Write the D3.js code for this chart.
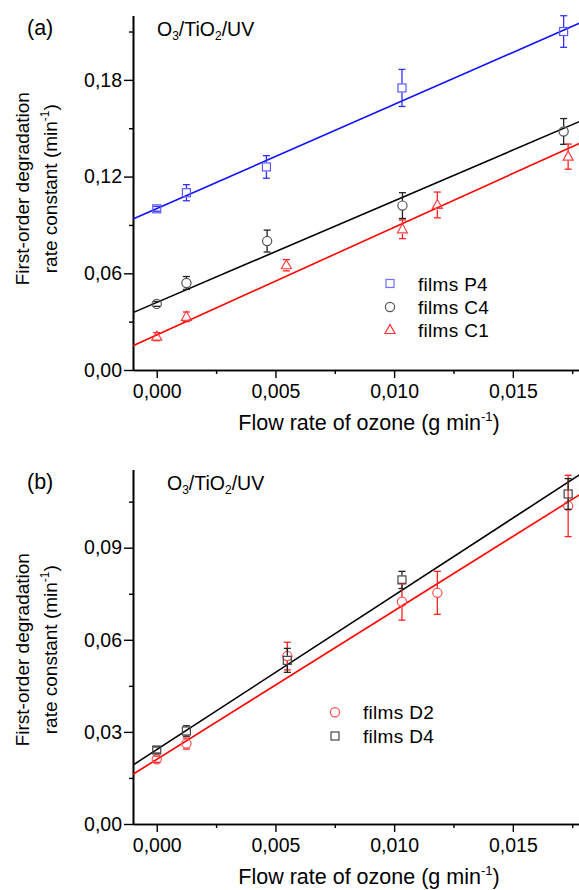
<!DOCTYPE html>
<html><head><meta charset="utf-8">
<script src="https://cdn.jsdelivr.net/npm/d3@7"></script>
<style>
html,body{margin:0;padding:0;background:#fff;}
text{font-family:"Liberation Sans",Arial,sans-serif;fill:#000;}
</style></head>
<body><div id="chart"></div>
<script>
// ---------- DATA ----------
// Panel (a)
const xP4 = [0, 0.00125, 0.00462, 0.01033, 0.01714];
const yP4 = [0.100, 0.110, 0.126, 0.175, 0.210];
const eP4 = [0.0015, 0.005, 0.007, 0.0115, 0.0098];
const xC4 = [0, 0.00125, 0.00465, 0.01035, 0.01714];
const yC4 = [0.041, 0.054, 0.080, 0.102, 0.148];
const eC4 = [0.0015, 0.004, 0.0068, 0.008, 0.008];
const xC1 = [0, 0.00125, 0.00546, 0.01035, 0.01182, 0.01733];
const yC1 = [0.0207, 0.033, 0.065, 0.0873, 0.1024, 0.1324];
const eC1 = [0.0025, 0.003, 0.0035, 0.0058, 0.008, 0.0078];
// fitted lines: [x, y] end points
const fitP4 = [[-0.001, 0.0937], [0.0178, 0.2151]];
const fitC4 = [[-0.001, 0.0356], [0.0178, 0.1541]];
const fitC1 = [[-0.001, 0.0151], [0.0178, 0.1406]];
// Panel (b)
const xD2 = [0, 0.00125, 0.00550, 0.01033, 0.01182, 0.01733];
const yD2 = [0.0211, 0.0262, 0.0547, 0.0724, 0.0753, 0.1036];
const eD2 = [0.001, 0.0018, 0.0045, 0.006, 0.007, 0.010];
const xD4 = [0, 0.00125, 0.00550, 0.01033, 0.01733];
const yD4 = [0.0241, 0.0303, 0.0533, 0.0795, 0.1075];
const eD4 = [0.001, 0.0017, 0.0039, 0.0028, 0.005];
const fitD4 = [[-0.001, 0.0192], [0.0178, 0.1137]];
const fitD2 = [[-0.001, 0.0162], [0.0178, 0.1072]];
// ticks
const xTicks = [0, 0.005, 0.010, 0.015];
const xMinor = [0.0025, 0.0075, 0.0125, 0.0175];
const yTicksA = [0, 0.06, 0.12, 0.18];
const yMinorA = [0.03, 0.09, 0.15, 0.21];
const yTicksB = [0, 0.03, 0.06, 0.09];
const yMinorB = [0.015, 0.045, 0.075, 0.105];
const legendA = ["films P4", "films C4", "films C1"];
const legendB = ["films D2", "films D4"];

// ---------- DRAWING ----------
const W = 579, H = 890;
const svg = d3.select("#chart").append("svg").attr("width", W).attr("height", H);
const comma = f => (v => f(v).replace(".", ","));
const fmtX = comma(d3.format(".3f"));
const fmtY = comma(d3.format(".2f"));

function panel(cfg) {
  const g = svg.append("g");
  const x = d3.scaleLinear().domain([-0.001, 0.0178]).range([133, 579.3]);
  const y = d3.scaleLinear().domain(cfg.yDomain).range([cfg.bottom, cfg.top]);

  // axes
  g.append("g").attr("transform", `translate(0,${cfg.bottom})`)
    .call(d3.axisBottom(x).tickValues(xTicks).tickFormat(fmtX).tickSize(8).tickSizeOuter(0).tickPadding(6));
  g.append("g").attr("transform", `translate(0,${cfg.bottom})`)
    .call(d3.axisBottom(x).tickValues(xMinor).tickFormat("").tickSize(4).tickSizeOuter(0));
  g.append("g").attr("transform", `translate(133,0)`)
    .call(d3.axisLeft(y).tickValues(cfg.yTicks).tickFormat(fmtY).tickSize(9).tickSizeOuter(0).tickPadding(2));
  g.append("g").attr("transform", `translate(133,0)`)
    .call(d3.axisLeft(y).tickValues(cfg.yMinor).tickFormat("").tickSize(4).tickSizeOuter(0));
  g.selectAll(".domain").attr("stroke", "#000").attr("stroke-width", 1.6);
  g.selectAll(".tick line").attr("stroke", "#000").attr("stroke-width", 1.4);
  g.selectAll(".tick text").attr("font-size", 19.5).attr("font-family", "Liberation Sans, Arial, sans-serif");

  // fit lines
  const line = d3.line().x(d => x(d[0])).y(d => y(d[1]));
  cfg.series.forEach(s => {
    g.append("path").attr("d", line(s.fit)).attr("fill", "none")
      .attr("stroke", s.lineColor).attr("stroke-width", 1.6);
  });

  // error bars + markers
  cfg.series.forEach(s => {
    const pts = s.xs.map((v, i) => ({x: x(v), y: y(s.ys[i]), t: y(s.ys[i] + s.es[i]), b: y(s.ys[i] - s.es[i])}));
    const eg = g.append("g").attr("stroke", s.barColor).attr("stroke-width", 1.3).attr("fill", "none");
    pts.forEach(p => {
      const r = 4.5;
      if (p.t < p.y - r) eg.append("line").attr("x1", p.x).attr("x2", p.x).attr("y1", p.y - r).attr("y2", p.t);
      if (p.b > p.y + r) eg.append("line").attr("x1", p.x).attr("x2", p.x).attr("y1", p.y + r).attr("y2", p.b);
      eg.append("line").attr("x1", p.x - 3.5).attr("x2", p.x + 3.5).attr("y1", p.t).attr("y2", p.t);
      eg.append("line").attr("x1", p.x - 3.5).attr("x2", p.x + 3.5).attr("y1", p.b).attr("y2", p.b);
    });
    pts.forEach(p => marker(g, s.shape, p.x, p.y, s.markColor));
  });

  // legend
  cfg.series.forEach((s, i) => {
    const ly = cfg.legY[i];
    marker(g, s.shape, cfg.legX, ly, s.legColor);
    g.append("text").attr("x", cfg.legX + 28).attr("y", ly + 7).attr("font-size", 19)
      .attr("letter-spacing", 0.3).text(s.name);
  });

  // labels
  g.append("text").attr("x", 27).attr("y", cfg.top + 20).attr("font-size", 21.5).text(cfg.tag);
  const o = g.append("text").attr("x", cfg.oX).attr("y", cfg.top + 21).attr("font-size", 19.5);
  o.append("tspan").text("O");
  o.append("tspan").attr("font-size", 12).attr("dy", 4).text("3");
  o.append("tspan").attr("dy", -4).text("/TiO");
  o.append("tspan").attr("font-size", 12).attr("dy", 4).text("2");
  o.append("tspan").attr("dy", -4).text("/UV");

  const xt = g.append("text").attr("x", 369).attr("y", cfg.bottom + 60).attr("text-anchor", "middle").attr("font-size", 21.5);
  xt.append("tspan").text("Flow rate of ozone (g min");
  xt.append("tspan").attr("font-size", 13).attr("dy", -9).text("-1");
  xt.append("tspan").attr("dy", 9).text(")");

  const cy = (cfg.top + cfg.bottom) / 2 + cfg.yOff;
  g.append("text").attr("transform", `translate(29,${cy}) rotate(-90)`).attr("text-anchor", "middle")
    .attr("font-size", 19).text("First-order degradation");
  const yt = g.append("text").attr("transform", `translate(57,${cy}) rotate(-90)`).attr("text-anchor", "middle").attr("font-size", 19);
  yt.append("tspan").text("rate constant (min");
  yt.append("tspan").attr("font-size", 12).attr("dy", -8).text("-1");
  yt.append("tspan").attr("dy", 8).text(")");
}

function marker(g, shape, cx, cy, color) {
  const m = g.append("g").attr("fill", "none").attr("stroke", color).attr("stroke-width", 1.2);
  if (shape === "square") m.append("rect").attr("x", cx - 4).attr("y", cy - 4).attr("width", 8).attr("height", 8);
  else if (shape === "circle") m.append("circle").attr("cx", cx).attr("cy", cy).attr("r", 4.6);
  else m.append("path").attr("d", `M${cx},${cy - 5.5}L${cx + 5},${cy + 3.5}L${cx - 5},${cy + 3.5}Z`);
}

panel({
  top: 15.4, bottom: 370, yDomain: [0, 0.22], yTicks: yTicksA, yMinor: yMinorA, tag: "(a)", oX: 157, yOff: -4,
  legX: 390, legY: [283.5, 307, 330],
  series: [
    {name: legendA[0], xs: xP4, ys: yP4, es: eP4, fit: fitP4, shape: "square", lineColor: "#1010ff", barColor: "#3030ff", markColor: "#5a5aff", legColor: "#6e6eff"},
    {name: legendA[1], xs: xC4, ys: yC4, es: eC4, fit: fitC4, shape: "circle", lineColor: "#000", barColor: "#222", markColor: "#555", legColor: "#555"},
    {name: legendA[2], xs: xC1, ys: yC1, es: eC1, fit: fitC1, shape: "triangle", lineColor: "#ff0000", barColor: "#ff2020", markColor: "#ff4040", legColor: "#ff3030"}
  ]
});

panel({
  top: 469.4, bottom: 824, yDomain: [0, 0.1155], yTicks: yTicksB, yMinor: yMinorB, tag: "(b)", oX: 167, yOff: 3,
  legX: 335, legY: [712.3, 736],
  series: [
    {name: legendB[0], xs: xD2, ys: yD2, es: eD2, fit: fitD2, shape: "circle", lineColor: "#ff0000", barColor: "#ff2020", markColor: "#ff5050", legColor: "#ff5050"},
    {name: legendB[1], xs: xD4, ys: yD4, es: eD4, fit: fitD4, shape: "square", lineColor: "#000", barColor: "#222", markColor: "#444", legColor: "#444"}
  ]
});
</script></body></html>
